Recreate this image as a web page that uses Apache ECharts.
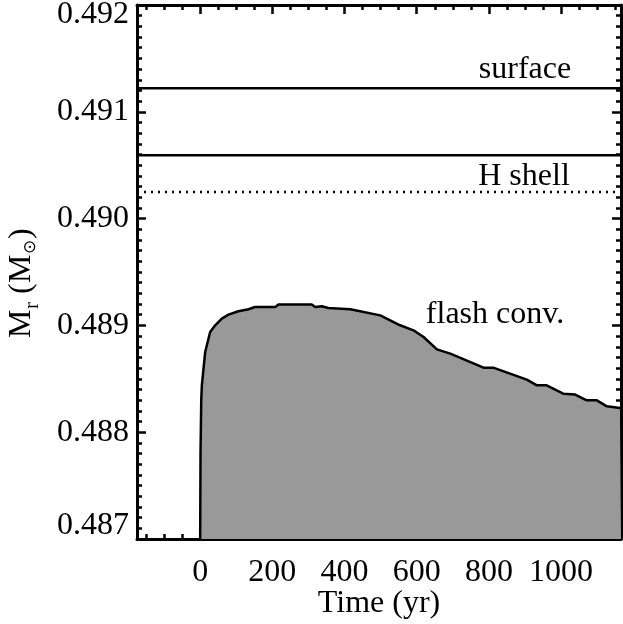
<!DOCTYPE html>
<html>
<head>
<meta charset="utf-8">
<script src="https://cdn.jsdelivr.net/npm/echarts@6/dist/echarts.min.js"></script>
<style>
html,body{margin:0;padding:0;background:#fff;}
#main{width:623px;height:624px;}
</style>
</head>
<body>
<div id="main"></div>
<script>
// ---- data ----
const timeYr = [0, 1, 3, 4.7, 13.9, 27.7, 41.6, 60, 78.4, 106, 134, 152, 208, 217, 309, 319, 337, 355, 416, 499, 554, 591, 619, 656, 693, 785, 812, 905, 933, 960, 1006, 1039, 1071, 1099, 1127, 1163, 1166];
const mrFlash = [0.48700, 0.48780, 0.48830, 0.488439, 0.488751, 0.488938, 0.489001, 0.489064, 0.489101, 0.489132, 0.489151, 0.489172, 0.489172, 0.489195, 0.489195, 0.489172, 0.489179, 0.489163, 0.489151, 0.489094, 0.489001, 0.488954, 0.488891, 0.488776, 0.488736, 0.488604, 0.488604, 0.488492, 0.488439, 0.488439, 0.488361, 0.488352, 0.488298, 0.488298, 0.488242, 0.488226, 0.488224];
const surfaceMr = 0.49122;
const hShellMr = 0.490594;
const hShellDotMr = 0.49025;
const xTickLabels = [0, 200, 400, 600, 800, 1000];
const yTickLabels = [0.487, 0.488, 0.489, 0.490, 0.491, 0.492];
const xRange = [-175, 1166];
const yRange = [0.487, 0.492];

// minor tick positions
const xMinor = [];
for (let k = -3; k <= 23; k++) xMinor.push(k * 50);
const yMinor = [];
for (let k = 4870; k <= 4920; k++) yMinor.push(k / 10000);

const FONT = '"Liberation Serif", "Times New Roman", serif';
const FS = 32;
const chart = echarts.init(document.getElementById('main'), null, {renderer: 'canvas'});

function xAx(pos, major, withLabels) {
  return {
    type: 'value', position: pos, min: xRange[0], max: xRange[1],
    axisLine: {show: major, onZero: false, lineStyle: {color: '#000', width: 3}},
    splitLine: {show: false},
    axisTick: {show: true, inside: true, length: major ? 9 : 5, customValues: major ? xTickLabels : xMinor, lineStyle: {color: '#000', width: 2.5}},
    axisLabel: withLabels ? {show: true, customValues: xTickLabels, margin: 18, color: '#000', fontFamily: FONT, fontSize: FS,
      formatter: function (v) { return String(v); }} : {show: false},
    name: withLabels ? 'Time (yr)' : '',
    nameLocation: 'middle', nameGap: 49, nameMoveOverlap: false,
    nameTextStyle: {color: '#000', fontFamily: FONT, fontSize: FS}
  };
}
function yAx(pos, major, withLabels) {
  return {
    type: 'value', position: pos, min: yRange[0], max: yRange[1],
    axisLine: {show: major, onZero: false, lineStyle: {color: '#000', width: 3}},
    splitLine: {show: false},
    axisTick: {show: true, inside: true, length: major ? 9 : 5, customValues: major ? yTickLabels : yMinor, lineStyle: {color: '#000', width: 2.5}},
    axisLabel: withLabels ? {
      show: true, customValues: yTickLabels, margin: 8, color: '#000', fontFamily: FONT, fontSize: FS,
      formatter: function (v) {
        const s = v.toFixed(3);
        if (Math.abs(v - yRange[1]) < 1e-9) return '{top|' + s + '}';
        if (Math.abs(v - yRange[0]) < 1e-9) return '{bot|' + s + '}';
        return s;
      },
      rich: {
        top: {fontFamily: FONT, fontSize: FS, color: '#000', padding: [20, 0, 0, 0]},
        bot: {fontFamily: FONT, fontSize: FS, color: '#000', padding: [0, 0, 26, 0]}
      }
    } : {show: false}
  };
}

const flashData = timeYr.map((t, i) => [t, mrFlash[i]]);
function hLine(v) { return [[xRange[0], v], [xRange[1], v]]; }

const option = {
  animation: false,
  backgroundColor: '#fff',
  grid: {left: 137, right: 2, top: 5, bottom: 85, containLabel: false, outerBoundsMode: 'none'},
  xAxis: [xAx('bottom', true, true), xAx('bottom', false, false), xAx('top', true, false), xAx('top', false, false)],
  yAxis: [yAx('left', true, true), yAx('left', false, false), yAx('right', true, false), yAx('right', false, false)],
  series: [
    {type: 'line', data: flashData, showSymbol: false, symbol: 'none', lineStyle: {color: '#000', width: 2.5},
     areaStyle: {color: '#999999', opacity: 1, origin: 'start'}, z: 2},
    {type: 'line', data: hLine(surfaceMr), symbol: 'none', lineStyle: {color: '#000', width: 2.5}, z: 3},
    {type: 'line', data: hLine(hShellMr), symbol: 'none', lineStyle: {color: '#000', width: 2.5}, z: 3},
    {type: 'line', data: hLine(hShellDotMr), symbol: 'none', lineStyle: {color: '#000', width: 2.5, type: [2, 5]}, z: 3}
  ],
  graphic: [
    {type: 'text', x: 525, y: 70, style: {text: 'surface', font: FS + 'px ' + FONT, fill: '#000', align: 'center', verticalAlign: 'middle'}},
    {type: 'text', x: 524, y: 177, style: {text: 'H shell', font: FS + 'px ' + FONT, fill: '#000', align: 'center', verticalAlign: 'middle'}},
    {type: 'text', x: 495, y: 315, style: {text: 'flash conv.', font: FS + 'px ' + FONT, fill: '#000', align: 'center', verticalAlign: 'middle'}},
    {type: 'group', x: 22, y: 279, rotation: Math.PI / 2, children: [
      {type: 'text', x: -59, y: 0, style: {text: 'M', font: FS + 'px ' + FONT, fill: '#000', align: 'left', verticalAlign: 'middle'}},
      {type: 'text', x: -30, y: 10, style: {text: 'r', font: '21px ' + FONT, fill: '#000', align: 'left', verticalAlign: 'middle'}},
      {type: 'text', x: -15, y: 0, style: {text: '(', font: FS + 'px ' + FONT, fill: '#000', align: 'left', verticalAlign: 'middle'}},
      {type: 'text', x: -4, y: 0, style: {text: 'M', font: FS + 'px ' + FONT, fill: '#000', align: 'left', verticalAlign: 'middle'}},
      {type: 'text', x: 25, y: 9, style: {text: '\u2299', font: '17px "DejaVu Sans"', fill: '#000', align: 'left', verticalAlign: 'middle'}},
      {type: 'text', x: 40, y: 0, style: {text: ')', font: FS + 'px ' + FONT, fill: '#000', align: 'left', verticalAlign: 'middle'}}
    ]}
  ]
};
option.series.forEach(s => { s.xAxisIndex = 0; s.yAxisIndex = 0; });
chart.setOption(option);
</script>
</body>
</html>
